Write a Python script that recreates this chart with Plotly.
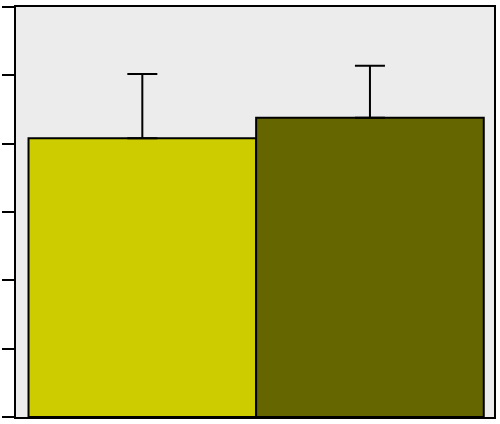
import plotly.graph_objects as go

categories = [0, 1]
values = [4.08, 4.38]
errors_plus = [0.94, 0.76]
colors = ["#cccc00", "#666600"]
y_ticks = [0, 1, 2, 3, 4, 5, 6]

fig = go.Figure()
fig.add_trace(go.Bar(
    x=categories,
    y=values,
    width=1,
    marker=dict(color=colors, line=dict(color="black", width=2)),
    error_y=dict(type="data", symmetric=False, array=errors_plus,
                 arrayminus=[0, 0], color="black", thickness=2, width=15),
    hoverinfo="skip",
))

fig.update_layout(
    width=500, height=424,
    margin=dict(l=16, r=4, t=7, b=7),
    paper_bgcolor="white",
    plot_bgcolor="#ececec",
    showlegend=False,
    xaxis=dict(range=[-0.555, 1.545], showticklabels=False, ticks="",
               showgrid=False, zeroline=False, showline=True,
               linecolor="black", linewidth=2, mirror=True),
    yaxis=dict(range=[0, 6], tickvals=y_ticks, showticklabels=False,
               ticks="outside", ticklen=12, tickwidth=2, tickcolor="black",
               showgrid=False, zeroline=False, showline=True,
               linecolor="black", linewidth=2, mirror=True),
)

fig.write_html("out.html",
               config={"displayModeBar": False},
               post_script="document.body.style.margin='0';document.body.style.overflow='hidden';")
